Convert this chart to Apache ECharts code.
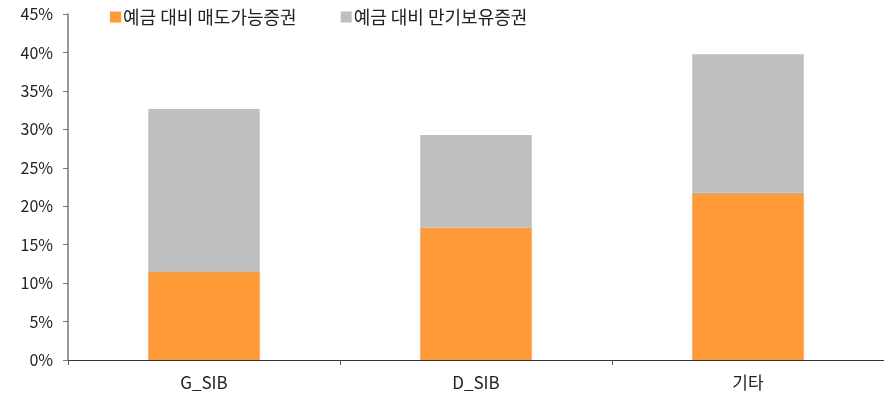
<!DOCTYPE html>
<html><head><meta charset="utf-8">
<script src="https://cdn.jsdelivr.net/npm/echarts@6/dist/echarts.min.js"></script>
<style>html,body{margin:0;padding:0;background:#fff}#c{width:884px;height:399px}</style>
</head><body><div id="c"></div>
<script>
const categories = ['G_SIB', 'D_SIB', '기타'];
const seriesNames = ['예금 대비 매도가능증권', '예금 대비 만기보유증권'];
const afsValues = [11.55, 17.2, 21.75];
const htmValues = [21.1, 12.05, 18.0];
const yTicks = [0, 5, 10, 15, 20, 25, 30, 35, 40, 45];

const font = '"Noto Sans CJK KR", "Noto Sans", sans-serif';
const chart = echarts.init(document.getElementById('c'));
chart.setOption({
  animation: false,
  textStyle: { fontFamily: font },
  legend: {
    left: 105, top: 3,
    itemWidth: 11, itemHeight: 11, itemGap: 44,
    icon: 'rect',
    textStyle: { fontSize: 18, color: '#222', fontFamily: font, padding: [0, 0, 0, -3] },
    data: seriesNames
  },
  grid: { left: 68, right: -3, top: 14, bottom: 39 },
  xAxis: {
    type: 'category', data: categories,
    axisLine: { lineStyle: { color: '#333', width: 1 } },
    axisTick: { show: true, length: 5, lineStyle: { color: '#555' } },
    axisLabel: { fontSize: 17, color: '#222', margin: 14, fontFamily: font }
  },
  yAxis: {
    type: 'value', min: yTicks[0], max: yTicks[yTicks.length - 1], interval: 5,
    axisLine: { show: true, lineStyle: { color: '#777', width: 1.5 } },
    axisTick: { show: true, length: 5, lineStyle: { color: '#777' } },
    splitLine: { show: false },
    axisLabel: { fontSize: 16, color: '#222', margin: 15, fontFamily: font, formatter: v => v + '%' }
  },
  series: [
    { name: seriesNames[0], type: 'bar', stack: 's', data: afsValues, barWidth: '41%', itemStyle: { color: '#FF9A36' } },
    { name: seriesNames[1], type: 'bar', stack: 's', data: htmValues, barWidth: '41%', itemStyle: { color: '#BFBFBF' } }
  ]
});
</script></body></html>
